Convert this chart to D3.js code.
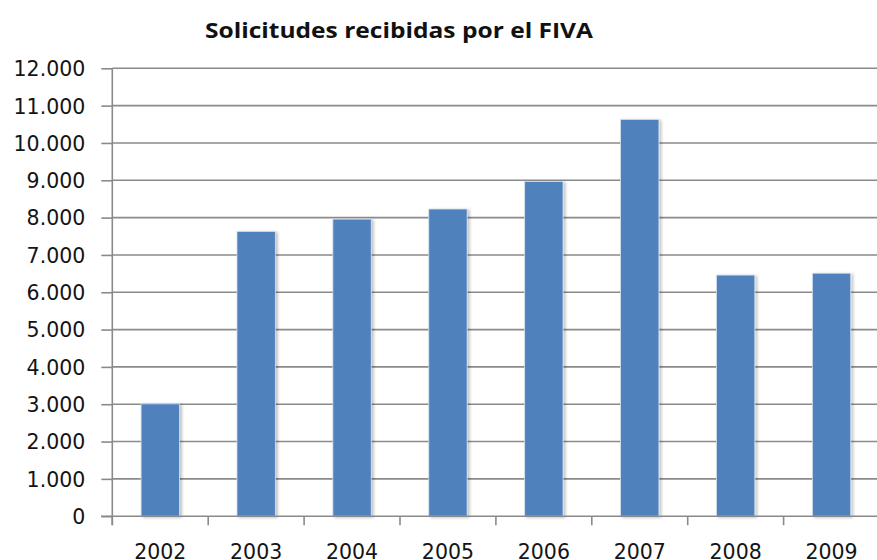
<!DOCTYPE html>
<html>
<head>
<meta charset="utf-8" />
<title>Solicitudes recibidas por el FIVA</title>
<style>
  body { margin: 0; background: #fff; }
  .tick text { font-family: "DejaVu Sans", Verdana, sans-serif; fill: #141414; }
</style>
</head>
<body>
<svg id="chart" width="877" height="560"></svg>
<script src="https://d3js.org/d3.v7.min.js"></script>
<script>
var years = ["2002", "2003", "2004", "2005", "2006", "2007", "2008", "2009"];
var requests = [3010, 7630, 7960, 8230, 8970, 10630, 6460, 6510];
var yTicks = [0, 1000, 2000, 3000, 4000, 5000, 6000, 7000, 8000, 9000, 10000, 11000, 12000];

var svg = d3.select("#chart");
var plotLeft = 112.3, plotRight = 879.5, plotTop = 68.3, plotBottom = 516.2;

var x = d3.scaleBand().domain(years).range([plotLeft, plotRight])
  .paddingInner(0.6).paddingOuter(0.3);
var y = d3.scaleLinear().domain([0, 12000]).range([plotBottom, plotTop]);

var fmt = function(d) { return d3.format(",")(d).replace(/,/g, "."); };

// drop shadow like the spreadsheet bars
var defs = svg.append("defs");
var f = defs.append("filter").attr("id", "shadow")
  .attr("x", "-20%").attr("y", "-5%").attr("width", "150%").attr("height", "115%");
f.append("feDropShadow").attr("dx", 2).attr("dy", 1).attr("stdDeviation", 1.5)
  .attr("flood-color", "#000").attr("flood-opacity", 0.25);

// horizontal grid lines
svg.append("g")
  .selectAll("line")
  .data(yTicks.filter(function(d) { return d > 0; }))
  .enter().append("line")
  .attr("x1", plotLeft).attr("x2", 877)
  .attr("y1", function(d) { return y(d); })
  .attr("y2", function(d) { return y(d); })
  .attr("stroke", "#8a8a8a").attr("stroke-width", 1.6);

// bars
svg.append("g")
  .selectAll("rect")
  .data(years)
  .enter().append("rect")
  .attr("x", function(d) { return x(d); })
  .attr("width", x.bandwidth())
  .attr("y", function(d, i) { return y(requests[i]); })
  .attr("height", function(d, i) { return plotBottom - y(requests[i]); })
  .attr("fill", "#4f81bd")
  .attr("stroke", "#d6e0ee").attr("stroke-width", 0.8)
  .attr("filter", "url(#shadow)");

// y axis
var yAxis = svg.append("g")
  .attr("transform", "translate(" + plotLeft + ",0)")
  .call(d3.axisLeft(y).tickValues(yTicks).tickFormat(fmt).tickSize(11).tickPadding(16));
yAxis.selectAll("text").attr("font-size", 20.5).attr("dy", "0.36em");

// x axis with ticks between categories
var xAxis = svg.append("g")
  .attr("transform", "translate(0," + plotBottom + ")")
  .call(d3.axisBottom(x).tickSize(0).tickPadding(0));
xAxis.selectAll("text").attr("font-size", 20.5).attr("dy", null).attr("y", 42.5);
xAxis.selectAll(".domain").remove();
xAxis.append("line").attr("x1", 101).attr("x2", 877).attr("stroke", "#8a8a8a").attr("stroke-width", 1.6);
xAxis.selectAll(".sep")
  .data(d3.range(years.length + 1))
  .enter().append("line")
  .attr("class", "sep")
  .attr("x1", function(i) { return plotLeft + i * x.step(); })
  .attr("x2", function(i) { return plotLeft + i * x.step(); })
  .attr("y1", 0).attr("y2", 9)
  .attr("stroke", "#8a8a8a").attr("stroke-width", 1.6);

yAxis.selectAll("line").attr("stroke", "#8a8a8a").attr("stroke-width", 1.6);
yAxis.select(".domain").attr("stroke", "#8a8a8a").attr("stroke-width", 1.6)
  .attr("d", "M0," + plotTop + "V" + (plotBottom + 9));

svg.append("text")
  .attr("x", 399).attr("y", 38)
  .attr("text-anchor", "middle")
  .attr("font-family", "'Open Sans', sans-serif")
  .attr("font-weight", "bold")
  .attr("font-size", 22)
  .attr("fill", "#111")
  .attr("textLength", 388)
  .attr("lengthAdjust", "spacingAndGlyphs")
  .text("Solicitudes recibidas por el FIVA");
</script>
</body>
</html>
